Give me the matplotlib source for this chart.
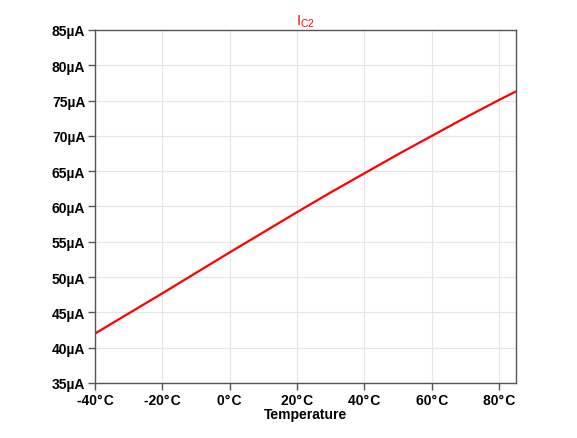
import matplotlib
matplotlib.use('Agg')
import matplotlib.pyplot as plt

plt.rcParams['font.family'] = ['Liberation Sans', 'DejaVu Sans']

# data
temp = [-40, -30, -20, -10, 0, 10, 20, 30, 40, 50, 60, 70, 80, 85]
ic2 = [42.0, 44.85, 47.7, 50.6, 53.5, 56.35, 59.2, 62.0, 64.7, 67.4, 70.0, 72.6, 75.1, 76.3]
xticks = [-40, -20, 0, 20, 40, 60, 80]
yticks = [35, 40, 45, 50, 55, 60, 65, 70, 75, 80, 85]

fig = plt.figure(figsize=(5.77, 4.39), dpi=100)
ax = fig.add_axes([0.1646, 0.1253, 0.7297, 0.8041])

ax.plot(temp, ic2, color='#ff0000', lw=1.6)

ax.set_xlim(-40, 85)
ax.set_ylim(35, 85)
ax.set_xticks(xticks)
ax.set_xticklabels([f'{t}°\u200aC' for t in xticks])
ax.set_yticks(yticks)
ax.set_yticklabels([f'{v}µA' for v in yticks])
ax.grid(True, color='#e6e6e6', lw=0.8)
ax.set_axisbelow(True)

for s in ax.spines.values():
    s.set_color('#555555')
    s.set_linewidth(1.0)
ax.tick_params(direction='out', length=5, width=1, color='#555555',
               labelsize=10, pad=2)
for lab in ax.get_xticklabels() + ax.get_yticklabels():
    lab.set_fontweight('bold')

ax.set_xlabel('Temperature', fontsize=10, fontweight='bold', labelpad=0)
ax.set_title(r'$\mathregular{I_{C2}}$', color='#ff0000', fontsize=10.5, pad=4)

fig.savefig('out.png', dpi=100)
